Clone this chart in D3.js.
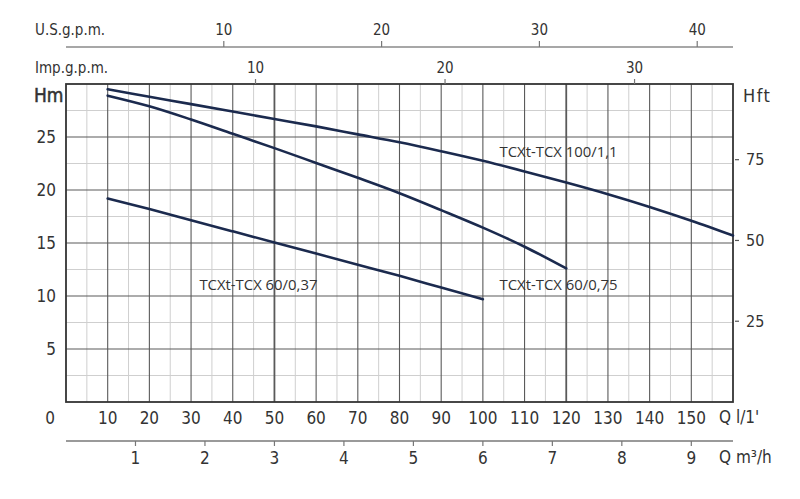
<!DOCTYPE html>
<html>
<head>
<meta charset="utf-8">
<script src="https://cdn.jsdelivr.net/npm/d3@7"></script>
<style>
  html, body { margin: 0; padding: 0; background: #fff; }
  svg { display: block; }
  .ax { font-family: "Liberation Sans Narrow", "DejaVu Sans Condensed", sans-serif; fill: #333; }
  .lbl { font-family: "Open Sans", "Liberation Sans", sans-serif; fill: #333; font-size: 14.5px; }
</style>
</head>
<body>
<svg id="chart" width="800" height="499"></svg>
<script>
// ---- data ----
const flowLpm100 = [10, 20, 30, 40, 50, 60, 70, 80, 90, 100, 110, 120, 130, 140, 150, 160];
const head100    = [29.5, 28.8, 28.1, 27.4, 26.7, 26.0, 25.25, 24.5, 23.65, 22.75, 21.75, 20.7, 19.6, 18.4, 17.1, 15.7];
const flowLpm075 = [10, 20, 30, 40, 50, 60, 70, 80, 90, 100, 110, 120];
const head075    = [28.9, 27.9, 26.65, 25.3, 23.95, 22.55, 21.15, 19.7, 18.1, 16.45, 14.65, 12.6];
const flowLpm037 = [10, 20, 30, 40, 50, 60, 70, 80, 90, 100];
const head037    = [19.2, 18.2, 17.15, 16.1, 15.05, 14.0, 12.95, 11.9, 10.8, 9.7];
const seriesNames = ["TCXt-TCX 100/1,1", "TCXt-TCX 60/0,75", "TCXt-TCX 60/0,37"];

const lpmTicks   = [10, 20, 30, 40, 50, 60, 70, 80, 90, 100, 110, 120, 130, 140, 150];
const m3hTicks   = [1, 2, 3, 4, 5, 6, 7, 8, 9];
const usTicks    = [10, 20, 30, 40];
const impTicks   = [10, 20, 30];
const hmTicks    = [5, 10, 15, 20, 25];
const hftTicks   = [25, 50, 75];

// unit conversions
const LPM_PER_US  = 3.78541;
const LPM_PER_IMP = 4.54609;
const LPM_PER_M3H = 1000 / 60;
const FT_PER_M    = 3.28084;

// ---- layout ----
const L = 66, R = 733, T = 84, B = 402;
const svg = d3.select("#chart");

const x = d3.scaleLinear().domain([0, 160]).range([L, R]);
const y = d3.scaleLinear().domain([0, 30]).range([B, T]);
const yft = d3.scaleLinear().domain([0, 30 * FT_PER_M]).range([B, T]);
const xUS = d3.scaleLinear().domain([0, 160 / LPM_PER_US]).range([L, R]);
const xImp = d3.scaleLinear().domain([0, 160 / LPM_PER_IMP]).range([L, R]);
const xM3 = d3.scaleLinear().domain([0, 160 / LPM_PER_M3H]).range([L, R]);

// ---- grid ----
const g = svg.append("g");
const minorX = d3.range(5, 160, 10);
const majorX = d3.range(10, 160, 10);
g.selectAll(".mx").data(minorX).join("line")
  .attr("x1", d => x(d)).attr("x2", d => x(d)).attr("y1", T).attr("y2", B)
  .attr("stroke", "#cfcfcf").attr("stroke-width", 1);
const minorY = d3.range(2.5, 30, 5);
g.selectAll(".my").data(minorY).join("line")
  .attr("y1", d => y(d)).attr("y2", d => y(d)).attr("x1", L).attr("x2", R)
  .attr("stroke", "#cfcfcf").attr("stroke-width", 1);
g.selectAll(".Mx").data(majorX).join("line")
  .attr("x1", d => x(d)).attr("x2", d => x(d)).attr("y1", T).attr("y2", B)
  .attr("stroke", "#5a5a5a").attr("stroke-width", d => (d === 50 || d === 120) ? 1.8 : 1.1);
g.selectAll(".My").data(hmTicks).join("line")
  .attr("y1", d => y(d)).attr("y2", d => y(d)).attr("x1", L).attr("x2", R)
  .attr("stroke", "#5a5a5a").attr("stroke-width", 1.1);

// frame
g.append("rect").attr("x", L).attr("y", T).attr("width", R - L).attr("height", B - T)
  .attr("fill", "none").attr("stroke", "#333").attr("stroke-width", 1.8);

// ---- curves ----
const line = d3.line().x(d => x(d[0])).y(d => y(d[1])).curve(d3.curveCatmullRom.alpha(0.5));
const curves = [
  d3.zip(flowLpm100, head100),
  d3.zip(flowLpm075, head075),
  d3.zip(flowLpm037, head037)
];
svg.append("g").selectAll("path").data(curves).join("path")
  .attr("d", line).attr("fill", "none").attr("stroke", "#1b2a4e")
  .attr("stroke-width", 2.6).attr("stroke-linecap", "round");

// curve labels (placed at flow / head positions)
const labelPos = [[104, 23.6], [104, 11.1], [32, 11.1]];
svg.append("g").selectAll("text").data(seriesNames).join("text")
  .attr("class", "lbl")
  .attr("x", (d, i) => x(labelPos[i][0]))
  .attr("y", (d, i) => y(labelPos[i][1]))
  .attr("dominant-baseline", "central")
  .attr("textLength", 118).attr("lengthAdjust", "spacingAndGlyphs")
  .text(d => d);

// ---- left axis Hm ----
svg.append("g").selectAll("text").data(hmTicks).join("text")
  .attr("class", "ax").attr("font-size", 17)
  .attr("x", 56).attr("y", d => y(d)).attr("text-anchor", "end")
  .attr("dominant-baseline", "central").text(d => d);
svg.append("text").attr("class", "ax").attr("font-size", 19)
  .attr("stroke", "#333").attr("stroke-width", 0.5)
  .attr("x", 34).attr("y", 95).attr("dominant-baseline", "central").text("Hm");

// ---- right axis Hft ----
const ra = svg.append("g");
ra.selectAll("line").data(hftTicks).join("line")
  .attr("x1", R + 2).attr("x2", R + 6).attr("y1", d => yft(d)).attr("y2", d => yft(d))
  .attr("stroke", "#555").attr("stroke-width", 1.2);
ra.selectAll("text").data(hftTicks).join("text")
  .attr("class", "ax").attr("font-size", 16)
  .attr("x", 746).attr("y", d => yft(d)).attr("dominant-baseline", "central").text(d => d);
svg.append("text").attr("class", "ax").attr("font-size", 18)
  .attr("x", 743).attr("y", 95).attr("dominant-baseline", "central")
  .attr("letter-spacing", 1.5).text("Hft");

// ---- bottom l/min labels ----
svg.append("g").selectAll("text").data(lpmTicks).join("text")
  .attr("class", "ax").attr("font-size", 17)
  .attr("x", d => x(d)).attr("y", 418).attr("text-anchor", "middle")
  .attr("dominant-baseline", "central").text(d => d);
svg.append("text").attr("class", "ax").attr("font-size", 17)
  .attr("x", 50).attr("y", 418).attr("text-anchor", "middle")
  .attr("dominant-baseline", "central").text("0");
svg.append("text").attr("class", "ax").attr("font-size", 17)
  .attr("x", 719).attr("y", 417).attr("dominant-baseline", "central")
  .text("Q  l/1'");

// ---- bottom m3/h axis ----
const ma = svg.append("g");
ma.append("line").attr("x1", L).attr("x2", R).attr("y1", 441).attr("y2", 441)
  .attr("stroke", "#9a9a9a").attr("stroke-width", 2);
ma.selectAll("line.t").data(m3hTicks).join("line").attr("class", "t")
  .attr("x1", d => xM3(d)).attr("x2", d => xM3(d)).attr("y1", 441).attr("y2", 446)
  .attr("stroke", "#777").attr("stroke-width", 1.2);
ma.selectAll("text").data(m3hTicks).join("text")
  .attr("class", "ax").attr("font-size", 17)
  .attr("x", d => xM3(d)).attr("y", 458).attr("text-anchor", "middle")
  .attr("dominant-baseline", "central").text(d => d);
svg.append("text").attr("class", "ax").attr("font-size", 17)
  .attr("x", 719).attr("y", 457).attr("dominant-baseline", "central")
  .text("Q  m³/h");

// ---- top U.S. gpm axis ----
const ua = svg.append("g");
ua.append("line").attr("x1", L).attr("x2", R).attr("y1", 47).attr("y2", 47)
  .attr("stroke", "#8a8a8a").attr("stroke-width", 1.5);
ua.selectAll("line.t").data(usTicks).join("line").attr("class", "t")
  .attr("x1", d => xUS(d)).attr("x2", d => xUS(d)).attr("y1", 41).attr("y2", 47)
  .attr("stroke", "#777").attr("stroke-width", 1.2);
ua.selectAll("text").data(usTicks).join("text")
  .attr("class", "ax").attr("font-size", 15)
  .attr("x", d => xUS(d)).attr("y", 30).attr("text-anchor", "middle")
  .attr("dominant-baseline", "central").text(d => d);
svg.append("text").attr("class", "ax").attr("font-size", 15)
  .attr("x", 35).attr("y", 30).attr("dominant-baseline", "central").text("U.S.g.p.m.");

// ---- top Imp gpm axis ----
const ia = svg.append("g");
ia.selectAll("line").data(impTicks).join("line")
  .attr("x1", d => xImp(d)).attr("x2", d => xImp(d)).attr("y1", 79).attr("y2", 84)
  .attr("stroke", "#777").attr("stroke-width", 1.2);
ia.selectAll("text").data(impTicks).join("text")
  .attr("class", "ax").attr("font-size", 15)
  .attr("x", d => xImp(d)).attr("y", 68).attr("text-anchor", "middle")
  .attr("dominant-baseline", "central").text(d => d);
svg.append("text").attr("class", "ax").attr("font-size", 15)
  .attr("x", 35).attr("y", 68).attr("dominant-baseline", "central").text("Imp.g.p.m.");
</script>
</body>
</html>
